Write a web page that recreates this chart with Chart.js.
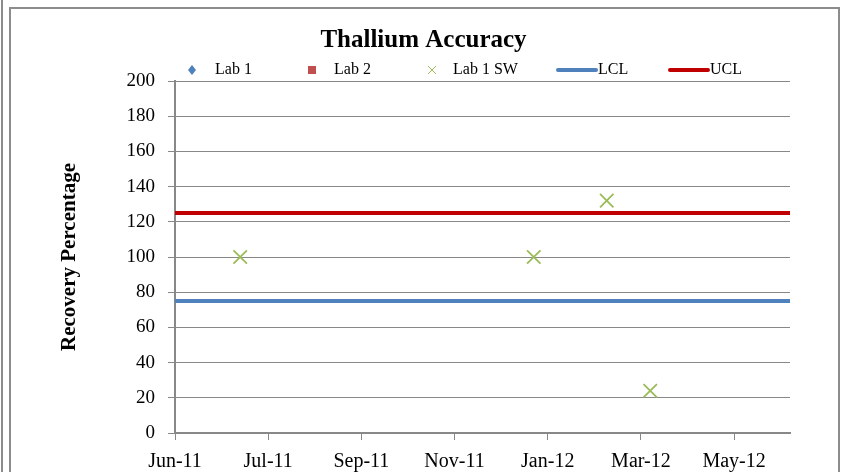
<!DOCTYPE html>
<html>
<head>
<meta charset="utf-8">
<script src="https://cdn.jsdelivr.net/npm/chart.js@4.4.1/dist/chart.umd.min.js"></script>
<style>
  body { margin: 0; background: #fff; }
  #wrap { position: relative; width: 850px; height: 472px; }
  .edge { position: absolute; border: 0 solid #8c8c8c; pointer-events: none; }
</style>
</head>
<body>
<div id="wrap">
  <canvas id="chart" width="850" height="472"></canvas>
  <div class="edge" style="left:1px;top:0;width:0;height:472px;border-left-width:2px;"></div>
  <div class="edge" style="left:9px;top:7px;width:827px;height:470px;border-width:2px;"></div>
</div>
<script>
// Dados do gráfico
const tickDates = ['2011-06-01', '2011-07-31', '2011-09-29', '2011-11-28', '2012-01-27', '2012-03-27', '2012-05-26'];
const axisStart = '2011-06-01';
const axisEnd = '2012-07-01';

const lab1Dates = [];
const lab1Values = [];
const lab2Dates = [];
const lab2Values = [];
const lab1SwDates = ['2011-07-13', '2012-01-18', '2012-03-05', '2012-04-02'];
const lab1SwValues = [100, 100, 132, 24];
const lclValue = 75;
const uclValue = 125;

const months = ['Jan', 'Feb', 'Mar', 'Apr', 'May', 'Jun', 'Jul', 'Aug', 'Sep', 'Oct', 'Nov', 'Dec'];

// datas viram número de dias
function toDay(s) {
  const [y, m, d] = s.split('-').map(Number);
  return Date.UTC(y, m - 1, d) / 86400000;
}
function fmtDay(n) {
  const dt = new Date(n * 86400000);
  return months[dt.getUTCMonth()] + '-' + String(dt.getUTCFullYear()).slice(2);
}
function pts(dates, values) {
  return dates.map((d, i) => ({ x: toDay(d), y: values[i] }));
}

const xMin = toDay(axisStart);
const xMax = toDay(axisEnd);
const tickValues = tickDates.map(toDay);

const serif = "'Liberation Serif', 'DejaVu Serif', serif";
const gridGray = '#888888';

// Legenda desenhada à mão
const legendPlugin = {
  id: 'excelLegend',
  afterDraw(chart) {
    const ctx = chart.ctx;
    const y = 70;
    ctx.save();
    ctx.font = '16px ' + serif;
    ctx.fillStyle = '#000';
    ctx.textBaseline = 'middle';
    const items = chart.data.datasets;
    const marks = [192, 312, 432, 558, 670];
    const texts = [215, 334, 453, 598, 710];
    items.forEach((ds, i) => {
      const mx = marks[i];
      if (ds.pointStyle === 'rectRot') {
        ctx.fillStyle = ds.backgroundColor;
        ctx.beginPath();
        ctx.moveTo(mx, y - 5); ctx.lineTo(mx + 4, y); ctx.lineTo(mx, y + 5); ctx.lineTo(mx - 4, y);
        ctx.closePath(); ctx.fill();
      } else if (ds.pointStyle === 'rect') {
        ctx.fillStyle = ds.backgroundColor;
        ctx.fillRect(mx - 4, y - 4, 8, 8);
      } else if (ds.pointStyle === 'crossRot') {
        ctx.strokeStyle = ds.borderColor;
        ctx.lineWidth = 1;
        ctx.beginPath();
        ctx.moveTo(mx - 4, y - 4); ctx.lineTo(mx + 4, y + 4);
        ctx.moveTo(mx + 4, y - 4); ctx.lineTo(mx - 4, y + 4);
        ctx.stroke();
      } else {
        ctx.strokeStyle = ds.borderColor;
        ctx.lineWidth = 4;
        ctx.lineCap = 'round';
        ctx.beginPath();
        ctx.moveTo(mx, y); ctx.lineTo(mx + 38, y);
        ctx.stroke();
      }
      ctx.fillStyle = '#000';
      ctx.fillText(ds.label, texts[i], y);
    });
    ctx.restore();
  }
};

new Chart(document.getElementById('chart'), {
  type: 'scatter',
  data: {
    datasets: [
      { label: 'Lab 1', data: pts(lab1Dates, lab1Values), pointStyle: 'rectRot', backgroundColor: '#4F81BD', borderColor: '#4F81BD', pointRadius: 5 },
      { label: 'Lab 2', data: pts(lab2Dates, lab2Values), pointStyle: 'rect', backgroundColor: '#C0504D', borderColor: '#C0504D', pointRadius: 5 },
      { label: 'Lab 1 SW', data: pts(lab1SwDates, lab1SwValues), pointStyle: 'crossRot', backgroundColor: '#9BBB59', borderColor: '#9BBB59', pointRadius: 9.5, pointBorderWidth: 1.8 },
      { label: 'LCL', type: 'line', data: [{ x: xMin, y: lclValue }, { x: xMax, y: lclValue }], borderColor: '#4F81BD', backgroundColor: '#4F81BD', borderWidth: 4, pointRadius: 0 },
      { label: 'UCL', type: 'line', data: [{ x: xMin, y: uclValue }, { x: xMax, y: uclValue }], borderColor: '#C00000', backgroundColor: '#C00000', borderWidth: 4, pointRadius: 0 }
    ]
  },
  options: {
    responsive: false,
    animation: false,
    layout: { padding: { left: 57, right: 60, top: 0, bottom: 0 } },
    plugins: {
      legend: { display: false },
      tooltip: { enabled: false },
      title: {
        display: true,
        text: 'Thallium Accuracy',
        color: '#000',
        font: { family: serif, size: 25, weight: 'bold' },
        padding: { top: 26, bottom: 25 }
      }
    },
    scales: {
      x: {
        type: 'linear',
        min: xMin,
        max: xMax,
        afterBuildTicks: (scale) => { scale.ticks = tickValues.map(v => ({ value: v })); },
        afterFit: (scale) => { scale.height = 39; },
        ticks: {
          color: '#000',
          font: { family: serif, size: 20 },
          padding: 10,
          maxRotation: 0,
          autoSkip: false,
          callback: (v) => fmtDay(v)
        },
        grid: { drawOnChartArea: false, drawTicks: true, tickLength: 7, color: gridGray },
        border: { color: gridGray, width: 2 }
      },
      y: {
        min: 0,
        max: 200,
        afterFit: (scale) => { scale.width = 118; },
        ticks: {
          stepSize: 20,
          color: '#000',
          font: { family: serif, size: 19 },
          padding: 13
        },
        grid: { color: gridGray, tickLength: 7 },
        border: { color: gridGray, width: 2 },
        title: {
          display: true,
          text: 'Recovery Percentage',
          color: '#000',
          font: { family: serif, size: 21, weight: 'bold' },
          padding: { top: 0, bottom: 0 }
        }
      }
    }
  },
  plugins: [legendPlugin]
});
</script>
</body>
</html>
